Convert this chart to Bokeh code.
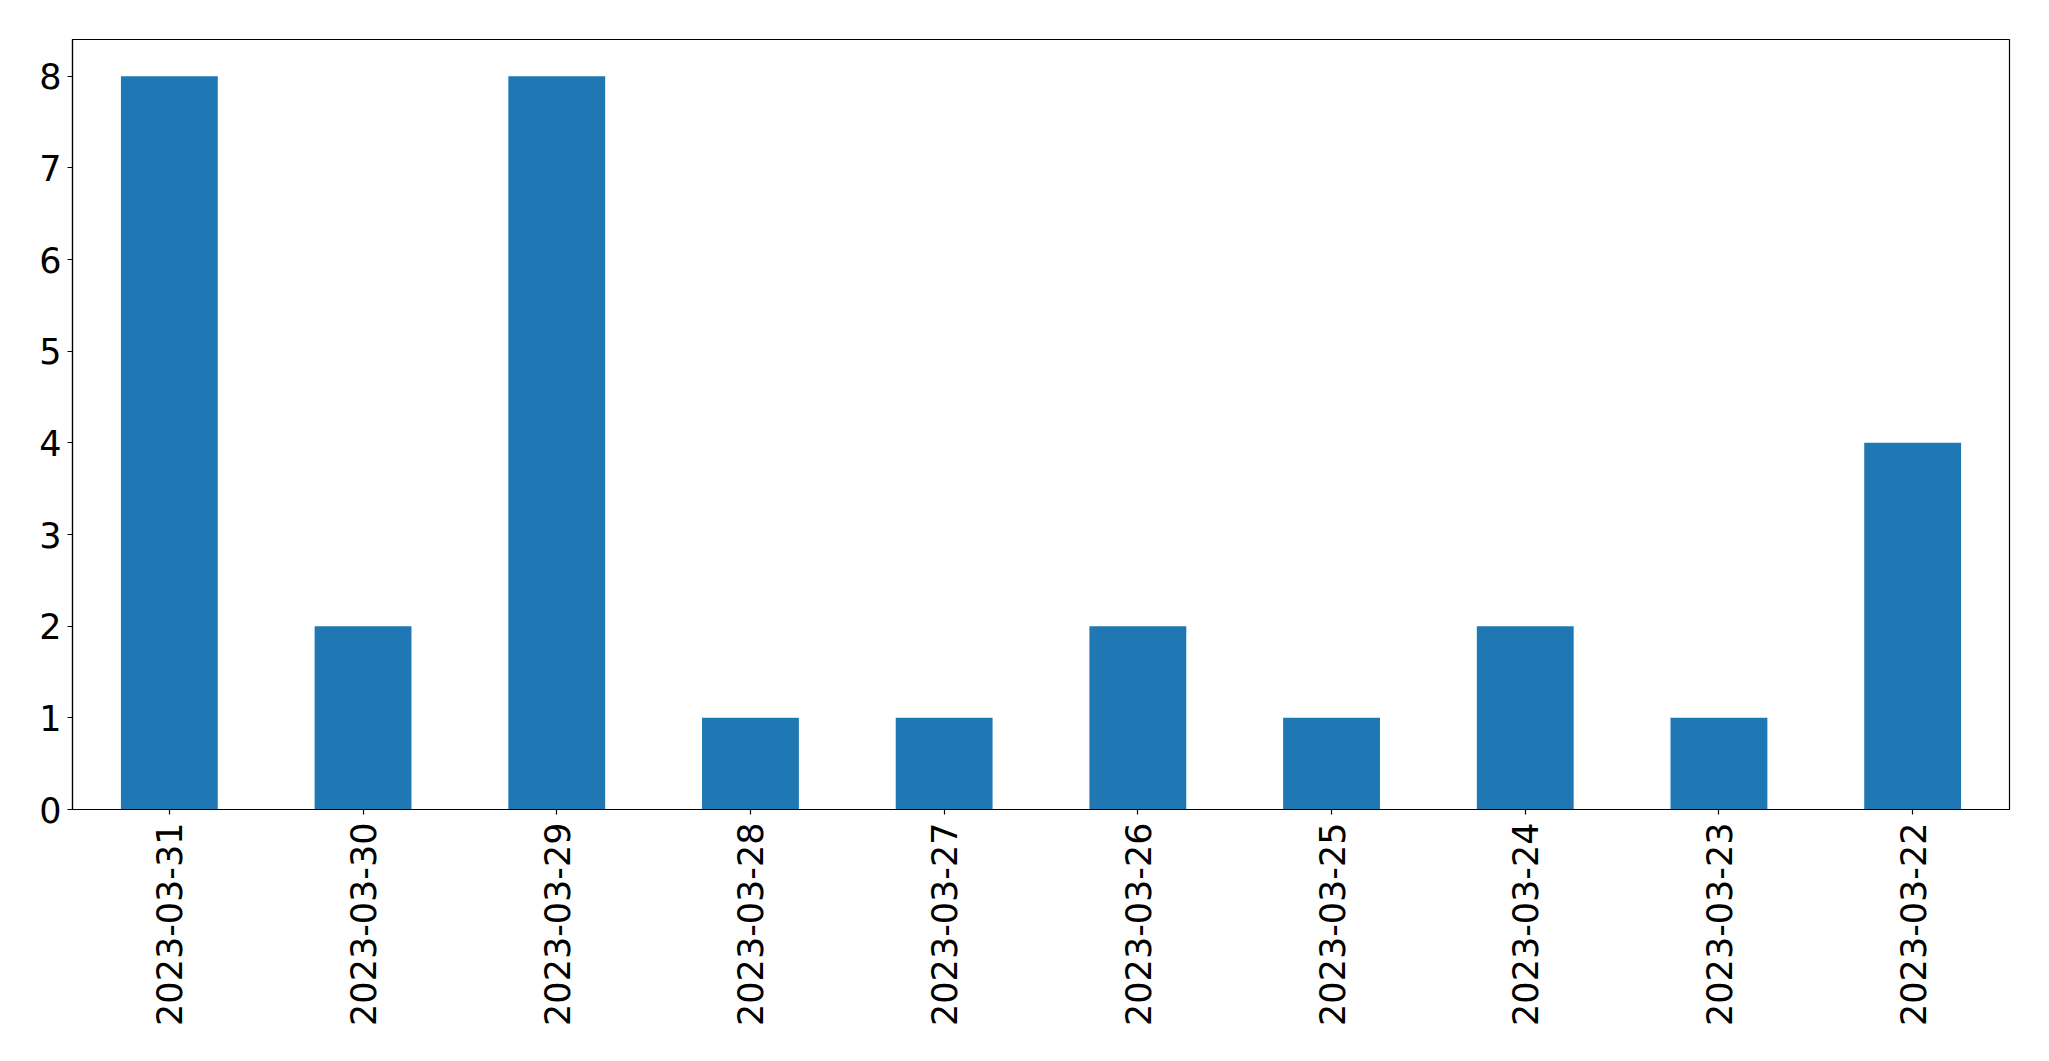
import math
from bokeh.plotting import figure
from bokeh.models import FactorRange, Range1d, FixedTicker, ColumnDataSource
from bokeh.embed import file_html
from bokeh.resources import INLINE

dates = ["2023-03-31", "2023-03-30", "2023-03-29", "2023-03-28", "2023-03-27",
         "2023-03-26", "2023-03-25", "2023-03-24", "2023-03-23", "2023-03-22"]
counts = [8, 2, 8, 1, 1, 2, 1, 2, 1, 4]
y_ticks = [0, 1, 2, 3, 4, 5, 6, 7, 8]

src = ColumnDataSource(data=dict(dates=dates, counts=counts))

p = figure(x_range=FactorRange(*dates, range_padding=0), y_range=Range1d(0, 8.4),
           width=2040, height=1055, output_backend="svg", toolbar_location=None,
           min_border_left=72, min_border_right=31, min_border_top=39, min_border_bottom=246)
p.x_range.factor_padding = 0
p.x_range.range_padding = 0

p.vbar(x="dates", top="counts", width=0.5, source=src, fill_color="#1f77b4", line_color=None)

p.xgrid.grid_line_color = None
p.ygrid.grid_line_color = None
p.outline_line_color = "black"
p.outline_line_width = 1.2

for ax in (p.xaxis[0], p.yaxis[0]):
    ax.axis_line_color = "black"
    ax.axis_line_width = 1.2
    ax.major_tick_line_color = "black"
    ax.major_tick_line_width = 1.2
    ax.major_tick_out = 5
    ax.major_tick_in = 0
    ax.minor_tick_line_color = None
    ax.major_label_text_font = "DejaVu Sans"
    ax.major_label_text_font_size = "35px"
    ax.major_label_text_color = "black"

p.yaxis[0].ticker = FixedTicker(ticks=y_ticks)
p.yaxis[0].major_label_standoff = 6
p.xaxis[0].major_label_orientation = math.pi / 2
p.xaxis[0].major_label_standoff = 8

open("out.html", "w").write(file_html(p, INLINE))
